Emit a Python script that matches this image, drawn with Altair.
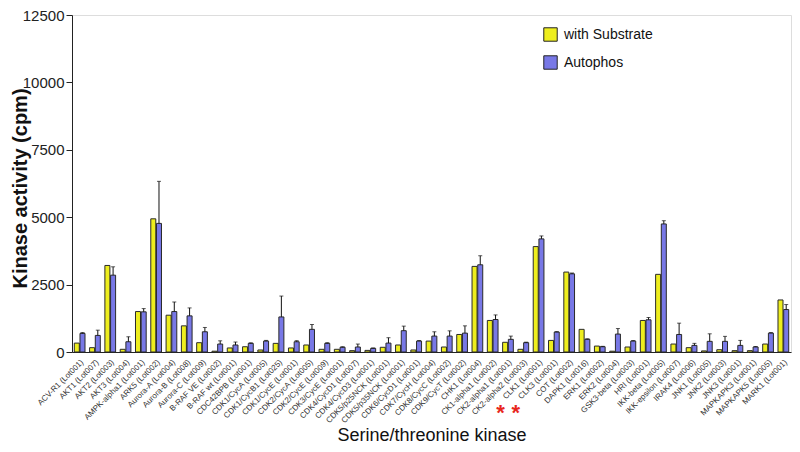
import altair as alt
import pandas as pd

kinases = [
    "ACV-R1 (Lot001)", "AKT1 (Lot007)", "AKT2 (Lot003)", "AKT3 (Lot004)",
    "AMPK-alpha1 (Lot001)", "ARK5 (Lot002)", "Aurora-A (Lot004)", "Aurora-B (Lot008)",
    "Aurora-C (Lot009)", "B-RAF VE (Lot002)", "B-RAF wt (Lot001)", "CDC42BPB (Lot001)",
    "CDK1/CycA (Lot005)", "CDK1/CycB1 (Lot025)", "CDK1/CycE (Lot001)", "CDK2/CycA (Lot005)",
    "CDK2/CycE (Lot009)", "CDK3/CycE (Lot001)", "CDK4/CycD1 (Lot007)", "CDK4/CycD3 (Lot001)",
    "CDK5/p25NCK (Lot001)", "CDK5/p35NCK (Lot001)", "CDK6/CycD1 (Lot001)", "CDK7/CycH (Lot004)",
    "CDK8/CycC (Lot002)", "CDK9/CycT (Lot002)", "CHK1 (Lot004)", "CK1-alpha1 (Lot002)",
    "CK2-alpha1 (Lot001)", "CK2-alpha2 (Lot003)", "CLK1 (Lot001)", "CLK3 (Lot001)",
    "COT (Lot002)", "DAPK1 (Lot016)", "ERK1 (Lot002)", "ERK2 (Lot004)",
    "GSK3-beta (Lot003)", "HRI (Lot001)", "IKK-beta (Lot005)", "IKK-epsilon (Lot007)",
    "IRAK4 (Lot006)", "JNK1 (Lot005)", "JNK2 (Lot003)", "JNK3 (Lot001)",
    "MAPKAPK3 (Lot001)", "MAPKAPK5 (Lot005)", "MARK1 (Lot001)",
]
with_substrate = [
    330, 160, 3210, 100, 1500, 4940, 1365, 970, 345, 30, 150, 195,
    75, 320, 150, 260, 100, 100, 50, 60, 175, 260, 75, 405,
    185, 650, 3175, 1170, 360, 100, 3910, 430, 2965, 840, 220, 30,
    185, 1170, 2880, 295, 160, 40, 85, 50, 50, 295, 1930,
]
autophos = [
    690, 615, 2850, 380, 1490, 4770, 1500, 1340, 750, 295, 260, 320,
    405, 1300, 380, 840, 320, 175, 185, 135, 330, 790, 405, 590,
    590, 700, 3235, 1205, 470, 345, 4195, 740, 2900, 470, 195, 665,
    405, 1195, 4750, 650, 245, 395, 395, 245, 185, 700, 1575,
]
autophos_err = [
    30, 195, 310, 185, 120, 1560, 355, 295, 160, 120, 110, 20,
    25, 775, 40, 180, 25, 20, 110, 15, 200, 170, 20, 160,
    195, 270, 335, 170, 120, 20, 110, 15, 30, 20, 15, 205,
    20, 85, 120, 420, 75, 280, 185, 185, 20, 20, 185,
]
series_names = ["with Substrate", "Autophos"]
series_colors = ["#eeee1e", "#7878e6"]
y_ticks = [0, 2500, 5000, 7500, 10000, 12500]
starred = ["CLK1 (Lot001)", "CLK3 (Lot001)"]

rows = []
for k, s, a in zip(kinases, with_substrate, autophos):
    rows.append({"kinase": k, "series": series_names[0], "value": s})
    rows.append({"kinase": k, "series": series_names[1], "value": a})
bars_df = pd.DataFrame(rows)
err_df = pd.DataFrame({
    "kinase": kinases,
    "series": series_names[1],
    "value": autophos,
    "top": [a + e for a, e in zip(autophos, autophos_err)],
})
star_df = pd.DataFrame({"kinase": starred, "mark": ["*"] * len(starred)})

FONT = "Liberation Sans"

x_axis = alt.Axis(
    title="Serine/threonine kinase", labelAngle=-45, labelFontSize=8, labelFont=FONT,
    labelColor="#333", ticks=False, labelPadding=6, titleFontSize=18,
    titleFontWeight="normal", titleFont=FONT, titleColor="#111", titleY=88,
    titleBaseline="alphabetic", domainColor="#222", labelOverlap=False,
)
x_scale = alt.Scale(domain=kinases, paddingInner=0.3, paddingOuter=0.15)
x_enc = alt.X("kinase:N", sort=kinases, scale=x_scale, axis=x_axis)
xo_enc = alt.XOffset("series:N", sort=series_names,
                     scale=alt.Scale(domain=series_names, paddingInner=0.12))

y_axis = alt.Axis(
    values=y_ticks, format="d", title="Kinase activity (cpm)", grid=False,
    labelFontSize=15, labelFont=FONT, labelColor="#222", labelPadding=2, tickSize=6,
    tickColor="#222", domainColor="#222", titleFont=FONT, titleFontSize=20,
    titleFontWeight="bold", titleColor="#111", titleX=-46, titleY=173,
    titleBaseline="alphabetic",
)
y_scale = alt.Scale(domain=[0, 12500], nice=False)

bars = alt.Chart(bars_df).mark_bar(stroke="#2a2a2a", strokeWidth=1).encode(
    x=x_enc,
    xOffset=xo_enc,
    y=alt.Y("value:Q", stack=None, scale=y_scale, axis=y_axis),
    color=alt.Color(
        "series:N", sort=series_names,
        scale=alt.Scale(domain=series_names, range=series_colors),
        legend=alt.Legend(
            title=None, orient="none", legendX=471, legendY=12, symbolType="square",
            symbolSize=180, symbolStrokeColor="#222", symbolStrokeWidth=1,
            symbolOpacity=1, labelFontSize=14, labelFont=FONT, labelColor="#111",
            rowPadding=9, labelOffset=6, padding=0,
        ),
    ),
)

err_rule = alt.Chart(err_df).mark_rule(color="#111", strokeWidth=1).encode(
    x=x_enc,
    xOffset=xo_enc,
    y=alt.Y("value:Q", scale=y_scale, axis=y_axis),
    y2="top:Q",
)
err_cap = alt.Chart(err_df).mark_tick(color="#111", thickness=1, size=4).encode(
    x=x_enc,
    xOffset=xo_enc,
    y=alt.Y("top:Q", scale=y_scale, axis=y_axis),
)
stars = alt.Chart(star_df).mark_text(
    color="#e8261c", fontSize=22, fontWeight="bold", font=FONT, dx=-38,
    baseline="alphabetic",
).encode(
    x=x_enc,
    y=alt.value(405),
    text="mark:N",
)

chart = alt.layer(bars, err_rule, err_cap, stars).properties(
    width=719, height=337,
    autosize=alt.AutoSizeParams(type="none"),
    padding={"left": 64, "top": 7, "right": 1, "bottom": 92},
).configure_view(stroke="#222", strokeWidth=1).configure(background="white")

chart.save("out.html", embed_options={"renderer": "svg", "actions": False})
